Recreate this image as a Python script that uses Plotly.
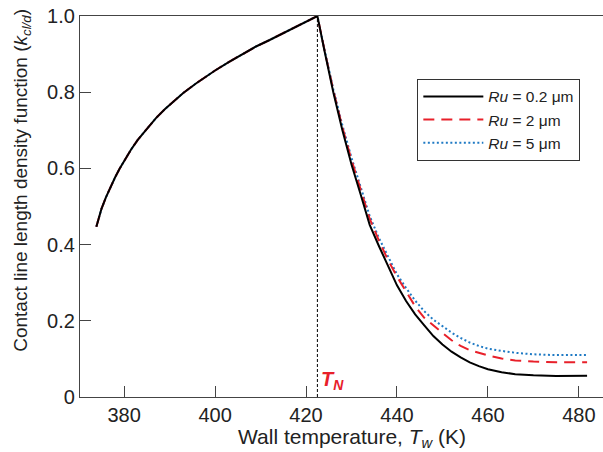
import plotly.graph_objects as go

# Shared rising branch (below nucleation temperature)
T_left = [373.9, 374.5, 375, 376, 377, 378, 379, 380, 381.5, 383, 385, 387, 389, 391, 393,
          395.8, 398, 400, 403, 406, 409, 412, 415, 418, 420, 422.5]
k_left = [0.447, 0.475, 0.493, 0.524, 0.551, 0.576, 0.599, 0.620, 0.649, 0.675, 0.705, 0.732,
          0.756, 0.778, 0.798, 0.823, 0.841, 0.857, 0.879, 0.900, 0.920, 0.937, 0.955, 0.973,
          0.985, 1.0]

# Decaying branch (above nucleation temperature)
T_right = [424, 426, 428, 430, 432, 434, 436, 438, 440, 442, 444, 446, 448, 450, 452, 454,
           456, 458, 460, 463, 466, 470, 475, 481.8]
k_ru02 = [0.912, 0.800, 0.700, 0.610, 0.532, 0.452, 0.397, 0.343, 0.293, 0.252, 0.217, 0.188,
          0.160, 0.138, 0.119, 0.104, 0.091, 0.081, 0.073, 0.065, 0.060, 0.057, 0.055, 0.056]
k_ru2 = [0.914, 0.805, 0.708, 0.622, 0.545, 0.468, 0.411, 0.360, 0.316, 0.278, 0.238, 0.208,
         0.187, 0.168, 0.149, 0.134, 0.123, 0.115, 0.109, 0.101, 0.096, 0.093, 0.091, 0.091]
k_ru5 = [0.915, 0.808, 0.713, 0.628, 0.552, 0.475, 0.418, 0.368, 0.322, 0.286, 0.253, 0.225,
         0.203, 0.186, 0.169, 0.155, 0.143, 0.134, 0.127, 0.121, 0.116, 0.112, 0.110, 0.110]

T_N = 422.5

series_names = ["<i>Ru</i> = 0.2 \u03bcm", "<i>Ru</i> = 2 \u03bcm", "<i>Ru</i> = 5 \u03bcm"]
x_ticks = [380, 400, 420, 440, 460, 480]
y_ticks = [0, 0.2, 0.4, 0.6, 0.8, 1.0]
y_ticktext = ["0", "0.2", "0.4", "0.6", "0.8", "1.0"]

FONT = "Liberation Sans, Arial, sans-serif"

fig = go.Figure()
styles = [
    (k_ru5, series_names[2], "#1f7ac4", "2px,2.5px"),
    (k_ru2, series_names[1], "#e8202a", "11px,7px"),
    (k_ru02, series_names[0], "#000000", "solid"),
]
for kr, name, color, dash in styles:
    fig.add_trace(go.Scatter(
        x=T_left + T_right, y=k_left + kr, mode="lines", name=name,
        line=dict(color=color, width=2, dash=dash),
    ))

fig.add_shape(type="line", x0=T_N, x1=T_N, y0=0, y1=1.0, xref="x", yref="y",
              line=dict(color="#000", width=1, dash="3px,2px"))
fig.add_annotation(x=T_N, y=0, xref="x", yref="y", text="<b><i>T<sub>N</sub></i></b>",
                   showarrow=False, xanchor="left", yanchor="bottom", xshift=2, yshift=2,
                   font=dict(family=FONT, size=20, color="#e8202a"))

# Axis titles (placed as annotations to match the reference's offsets)
fig.add_annotation(x=-0.111, y=0.57, xref="paper", yref="paper", textangle=-90,
                   text="Contact line length density function (<i>k<sub>cl/d</sub></i>)",
                   showarrow=False, xanchor="center", yanchor="middle",
                   font=dict(family=FONT, size=19, color="#222"))
fig.add_annotation(x=0.52, y=-0.108, xref="paper", yref="paper",
                   text="Wall temperature, <i>T<sub>w</sub></i> (K)",
                   showarrow=False, xanchor="center", yanchor="middle",
                   font=dict(family=FONT, size=21, color="#222"))

fig.update_layout(
    width=603, height=452,
    margin=dict(l=80, r=0, t=16, b=55),
    paper_bgcolor="white", plot_bgcolor="white",
    font=dict(family=FONT, size=19, color="#222"),
    showlegend=True,
    legend=dict(
        x=0.645, y=0.835, xanchor="left", yanchor="top",
        traceorder="reversed", bordercolor="#333", borderwidth=1,
        bgcolor="white", font=dict(family=FONT, size=15.5, color="#222"),
        itemwidth=60, tracegroupgap=0,
    ),
    xaxis=dict(
        range=[370.3, 485.3], tickvals=x_ticks, ticks="inside", ticklen=11,
        tickcolor="#444", showline=True, linecolor="#444", linewidth=1.3, mirror=True,
        showgrid=False, zeroline=False,
        tickfont=dict(size=20),
    ),
    yaxis=dict(
        range=[0, 1.0], tickvals=y_ticks, ticktext=y_ticktext, ticks="inside", ticklen=11,
        tickcolor="#444", showline=True, linecolor="#444", linewidth=1.3,
        showgrid=False, zeroline=False,
        tickfont=dict(size=20),
    ),
)

fig.write_html("out.html", config={"displayModeBar": False},
               post_script="document.body.style.margin='0';")
